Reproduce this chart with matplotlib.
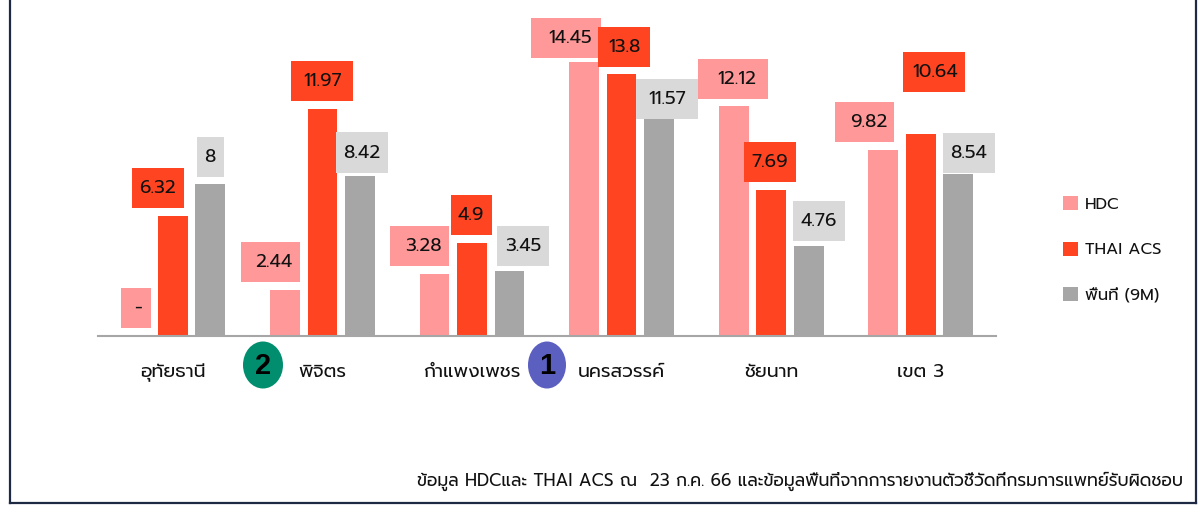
import numpy as np
import matplotlib
matplotlib.use('Agg')
import matplotlib.pyplot as plt
from matplotlib.lines import Line2D
from matplotlib.patches import Ellipse, Rectangle

plt.rcParams['font.family'] = ['Prompt', 'DejaVu Sans']
plt.rcParams['font.weight'] = 400

# Indicator values per province; HDC has no figure for the first province
provinces = ['อุทัยธานี', 'พิจิตร', 'กำแพงเพชร', 'นครสวรรค์', 'ชัยนาท', 'เขต 3']
hdc = [np.nan, 2.44, 3.28, 14.45, 12.12, 9.82]
thai_acs = [6.32, 11.97, 4.9, 13.8, 7.69, 10.64]
area_9m = [8, 8.42, 3.45, 11.57, 4.76, 8.54]
series_names = ['HDC', 'THAI ACS', 'พื้นที่ (9M)']
footnote = ('ข้อมูล HDCและ THAI ACS ณ  23 ก.ค. 66 '
            'และข้อมูลพื้นที่จากการายงานตัวชี้วัดที่กรมการแพทย์รับผิดชอบ')

PINK, RED, GREY, PALE_GREY = '#FF9999', '#FF4422', '#A6A6A6', '#D9D9D9'
FRAME = '#1E2A44'
W, H = 1203, 505

# Value tag boxes in pixels from the top left: x0, x1, y0, y1, text centre x
hdc_tags = [(121, 151, 288, 328, 138), (241, 300, 242, 282, 274),
            (390, 449, 226, 266, 423), (531, 601, 18, 58, 570),
            (698, 768, 59, 99, 737), (835, 894, 102, 142, 869)]
acs_tags = [(132, 184, 168, 208, 158), (291, 353, 61, 101, 322),
            (451, 492, 195, 235, 471), (598, 650, 27, 67, 624),
            (744, 796, 142, 182, 770), (903, 965, 52, 92, 935)]
area_tags = [(197, 224, 137, 177, 210), (336, 388, 132, 173, 362),
             (497, 549, 226, 266, 523), (636, 698, 79, 119, 667),
             (793, 845, 201, 241, 819), (943, 995, 133, 173, 969)]


def fx(x):
    return x / W


def fy(y):
    return 1 - y / H


fig = plt.figure(figsize=(W / 100, H / 100), dpi=100)
ax = fig.add_axes([fx(98), fy(336), fx(995.6) - fx(98), fy(0) - fy(336)])

x = np.arange(len(provinces))
step, width = 0.2507, 0.198
bars = [ax.bar(x + k * step, vals, width, color=col, label=name)
        for k, vals, col, name in zip((-1, 0, 1), (hdc, thai_acs, area_9m),
                                      (PINK, RED, GREY), series_names)]

ax.set_xlim(-0.5, len(provinces) - 0.5)
ax.set_ylim(0, 336 / 18.96)
ax.set_yticks([])
ax.set_xticks(x, provinces, fontsize=13.5, color='#111111')
ax.tick_params(axis='x', length=0, pad=20)
for side in ('top', 'left', 'right'):
    ax.spines[side].set_visible(False)
ax.spines['bottom'].set_color(GREY)
ax.spines['bottom'].set_linewidth(1.5)
ax.patch.set_alpha(0)

# Value tags sit above the bars on the figure layer
for vals, tags, col in ((hdc, hdc_tags, PINK), (thai_acs, acs_tags, RED),
                        (area_9m, area_tags, PALE_GREY)):
    for v, (x0, x1, y0, y1, cx) in zip(vals, tags):
        fig.add_artist(Rectangle((fx(x0), fy(y1)), fx(x1) - fx(x0), fy(y0) - fy(y1),
                                 transform=fig.transFigure, facecolor=col,
                                 edgecolor='none', zorder=3))
        text = '-' if np.isnan(v) else f'{v:g}'
        fig.text(fx(cx), fy((y0 + y1) / 2 + 0.5), text, ha='center', va='center',
                 fontsize=13.5, color='#111111', zorder=4)

# Rank badges between the province names
for cx, wd, col, rank in ((263, 40, '#008E6E', '2'), (547, 38, '#5B5FC0', '1')):
    fig.add_artist(Ellipse((fx(cx), fy(365)), wd / W, 47 / H,
                           transform=fig.transFigure, facecolor=col,
                           edgecolor='none', zorder=3))
    fig.text(fx(cx), fy(365.5), rank, ha='center', va='center', fontsize=21,
             fontweight='bold', family=['Liberation Sans'], color='#000000', zorder=4)

ax.legend(handles=bars, loc='center left', bbox_to_anchor=(fx(1063), fy(250)),
          bbox_transform=fig.transFigure, frameon=False, fontsize=11.8,
          borderpad=0, borderaxespad=0, handlelength=0.93, handleheight=0.93,
          handletextpad=0.41, labelspacing=1.78, labelcolor='#111111')

fig.text(fx(1183), fy(481), footnote, ha='right', va='center', fontsize=12.4,
         color='#111111')

# Open-topped outer frame
for xs, ys in (((9.5, 9.5), (0, 503)), ((1196, 1196), (0, 503)), ((9.5, 1196), (503, 503))):
    fig.add_artist(Line2D([fx(v) for v in xs], [fy(v) for v in ys],
                          transform=fig.transFigure, color=FRAME, linewidth=1.6,
                          solid_capstyle='projecting'))

fig.savefig('out.png', dpi=100)
